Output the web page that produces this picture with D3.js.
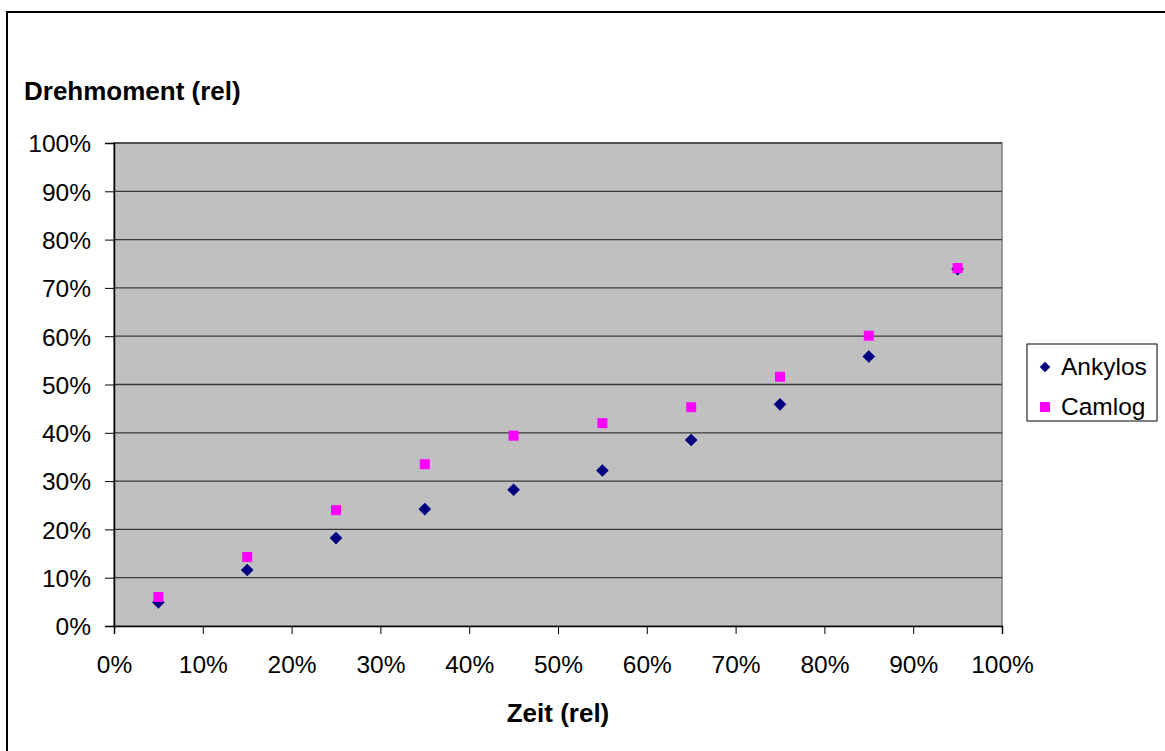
<!DOCTYPE html>
<html>
<head>
<meta charset="utf-8">
<script src="https://d3js.org/d3.v7.min.js"></script>
<style>
body { margin:0; background:#fff; }
svg { display:block; font-family:"Liberation Sans", Arial, sans-serif; }
</style>
</head>
<body>
<script>
var zeit = [0.05, 0.15, 0.25, 0.35, 0.45, 0.55, 0.65, 0.75, 0.85, 0.95];
var ankylos = [0.049, 0.116, 0.182, 0.242, 0.282, 0.322, 0.385, 0.459, 0.558, 0.739];
var camlog = [0.060, 0.143, 0.240, 0.335, 0.394, 0.420, 0.453, 0.516, 0.601, 0.741];
var ticks = d3.range(0, 1.0001, 0.1);

var width = 1165, height = 751;
var svg = d3.select("body").append("svg").attr("width", width).attr("height", height);

// outer chart border (runs off right/bottom)
svg.append("rect").attr("x", 7).attr("y", 12).attr("width", 1200).attr("height", 800)
  .attr("fill", "none").attr("stroke", "#000").attr("stroke-width", 2);

var x = d3.scaleLinear().domain([0, 1]).range([114, 1002]);
var y = d3.scaleLinear().domain([0, 1]).range([626, 143]);
var fmt = d3.format(".0%");

svg.append("rect").attr("x", x(0)).attr("y", y(1)).attr("width", x(1) - x(0)).attr("height", y(0) - y(1))
  .attr("fill", "#c0c0c0").attr("stroke", "#808080").attr("stroke-width", 1.5);

svg.append("g").selectAll("line").data(ticks.slice(1)).enter().append("line")
  .attr("x1", x(0)).attr("x2", x(1)).attr("y1", d => y(d)).attr("y2", d => y(d))
  .attr("stroke", "#3a3a3a").attr("stroke-width", 1.3);

var yAxis = svg.append("g").attr("transform", "translate(" + x(0) + ",0)")
  .call(d3.axisLeft(y).tickValues(ticks).tickFormat(fmt).tickSize(9).tickPadding(14));
var xAxis = svg.append("g").attr("transform", "translate(0," + y(0) + ")")
  .call(d3.axisBottom(x).tickValues(ticks).tickFormat(fmt).tickSize(8).tickPadding(22));
[yAxis, xAxis].forEach(function (g) {
  g.attr("font-size", null).attr("font-family", null);
  g.select(".domain").attr("stroke", "#000").attr("stroke-width", 1.5);
  g.selectAll(".tick line").attr("stroke", "#000");
  g.selectAll("text").attr("fill", "#000").style("font-size", "24.5px");
});
yAxis.selectAll("text").attr("dy", "0.36em");

svg.append("g").selectAll("path").data(zeit).enter().append("path")
  .attr("d", d3.symbol().type(d3.symbolSquare).size(80)())
  .attr("transform", (d, i) => "translate(" + x(d) + "," + y(ankylos[i]) + ") rotate(45)")
  .attr("fill", "#000080");

svg.append("g").selectAll("rect").data(zeit).enter().append("rect")
  .attr("x", d => x(d) - 5).attr("y", (d, i) => y(camlog[i]) - 5)
  .attr("width", 10).attr("height", 10).attr("fill", "#ff00ff");

svg.append("text").attr("x", 24).attr("y", 100).text("Drehmoment (rel)")
  .style("font-size", "26px").style("font-weight", "bold");
svg.append("text").attr("x", (x(0) + x(1)) / 2).attr("y", 722).attr("text-anchor", "middle")
  .text("Zeit (rel)").style("font-size", "26px").style("font-weight", "bold");

// legend
var lg = svg.append("g");
lg.append("rect").attr("x", 1027).attr("y", 344).attr("width", 130).attr("height", 77)
  .attr("fill", "#fff").attr("stroke", "#000").attr("stroke-width", 1);
lg.append("path").attr("d", d3.symbol().type(d3.symbolSquare).size(55)())
  .attr("transform", "translate(1045,367) rotate(45)").attr("fill", "#000080");
lg.append("rect").attr("x", 1040).attr("y", 402).attr("width", 10).attr("height", 10).attr("fill", "#ff00ff");
lg.append("text").attr("x", 1061).attr("y", 375).text("Ankylos").style("font-size", "24.5px");
lg.append("text").attr("x", 1061).attr("y", 415).text("Camlog").style("font-size", "24.5px");
</script>
</body>
</html>
